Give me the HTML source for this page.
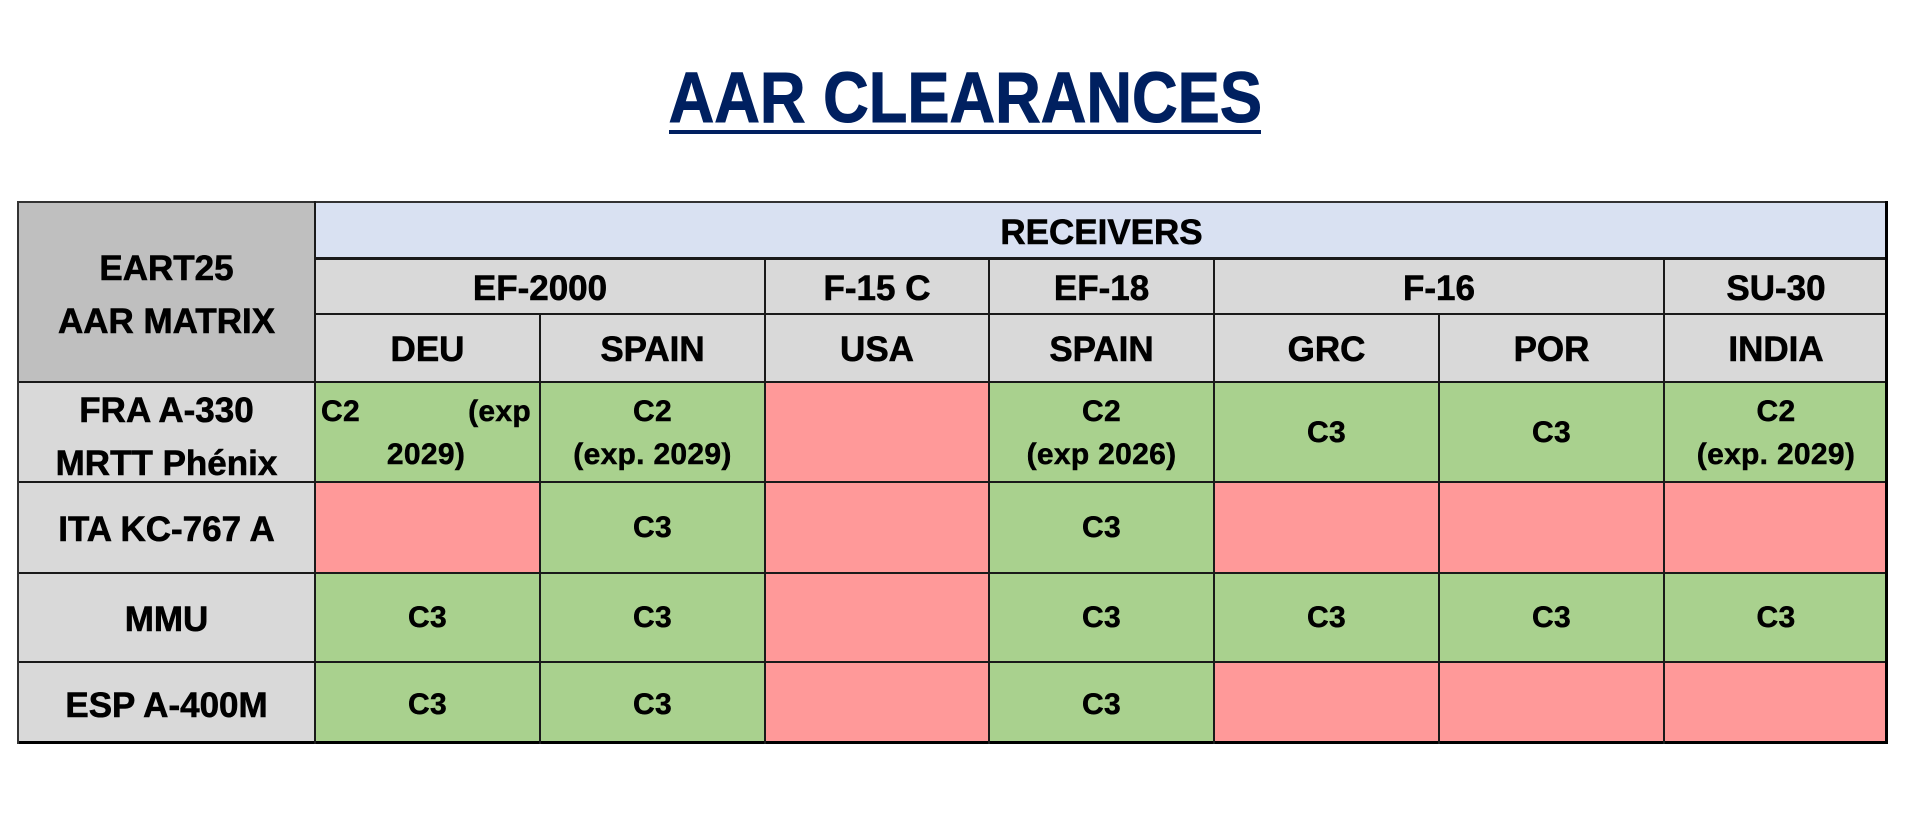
<!DOCTYPE html>
<html>
<head>
<meta charset="utf-8">
<style>
  html, body { margin:0; padding:0; background:#ffffff; }
  body { width:1920px; height:817px; position:relative; overflow:hidden;
         font-family:"Liberation Sans", Arial, sans-serif; font-weight:bold; color:#000; }
  .title { position:absolute; left:465px; top:64px; width:1000px; text-align:center;
           font-size:71px; line-height:70px; color:#002060; white-space:nowrap;
           -webkit-text-stroke:1px #002060; }
  .title span { display:inline-block; transform:scaleX(0.89); transform-origin:50% 50%; }
  .uline { position:absolute; left:669px; top:130px; width:592px; height:4px; background:#002060; }
  .c { position:absolute; display:flex; align-items:center; justify-content:center; text-align:center; box-sizing:border-box; }
  .h { font-size:35px; line-height:53px; -webkit-text-stroke:0.6px #000; }
  .d { font-size:30px; line-height:43px; letter-spacing:0.3px; -webkit-text-stroke:0.5px #000; }
  .g { background:#A9D18E; }
  .r { background:#FF9999; }
  .gr { background:#D9D9D9; }
  .dk { background:#BFBFBF; }
  .bl { background:#D9E1F2; }
  .hl { position:absolute; background:#1a1a1a; }
</style>
</head>
<body>
<div class="title"><span>AAR CLEARANCES</span></div>
<div class="uline"></div>

<!-- header cells -->
<div class="c h dk" style="left:18px;top:202px;width:297px;height:180px;padding-top:6px;">EART25<br>AAR MATRIX</div>
<div class="c h bl" style="left:315px;top:202px;width:1573px;height:57px;padding-top:3px;">RECEIVERS</div>

<div class="c h gr" style="left:315px;top:259px;width:450px;height:55px;padding-top:3px;">EF-2000</div>
<div class="c h gr" style="left:765px;top:259px;width:224px;height:55px;padding-top:3px;">F-15 C</div>
<div class="c h gr" style="left:989px;top:259px;width:225px;height:55px;padding-top:3px;">EF-18</div>
<div class="c h gr" style="left:1214px;top:259px;width:450px;height:55px;padding-top:3px;">F-16</div>
<div class="c h gr" style="left:1664px;top:259px;width:224px;height:55px;padding-top:3px;">SU-30</div>

<div class="c h gr" style="left:315px;top:314px;width:225px;height:68px;padding-top:3px;">DEU</div>
<div class="c h gr" style="left:540px;top:314px;width:225px;height:68px;padding-top:3px;">SPAIN</div>
<div class="c h gr" style="left:765px;top:314px;width:224px;height:68px;padding-top:3px;">USA</div>
<div class="c h gr" style="left:989px;top:314px;width:225px;height:68px;padding-top:3px;">SPAIN</div>
<div class="c h gr" style="left:1214px;top:314px;width:225px;height:68px;padding-top:3px;">GRC</div>
<div class="c h gr" style="left:1439px;top:314px;width:225px;height:68px;padding-top:3px;">POR</div>
<div class="c h gr" style="left:1664px;top:314px;width:224px;height:68px;padding-top:3px;">INDIA</div>

<!-- row headers -->
<div class="c h gr" style="left:18px;top:382px;width:297px;height:100px;padding-top:9px;">FRA A-330<br>MRTT Phénix</div>
<div class="c h gr" style="left:18px;top:482px;width:297px;height:91px;padding-top:3px;">ITA KC-767 A</div>
<div class="c h gr" style="left:18px;top:573px;width:297px;height:89px;padding-top:3px;">MMU</div>
<div class="c h gr" style="left:18px;top:662px;width:297px;height:81px;padding-top:5px;">ESP A-400M</div>

<!-- row 1 -->
<div class="c d g" style="left:315px;top:382px;width:225px;height:100px;padding-top:2px;">
  <div style="width:100%;padding:0 9px 0 6px;box-sizing:border-box;">
    <div style="display:flex;justify-content:space-between;"><span>C2</span><span>(exp</span></div>
    <div>2029)</div>
  </div>
</div>
<div class="c d g" style="left:540px;top:382px;width:225px;height:100px;padding-top:2px;">C2<br>(exp. 2029)</div>
<div class="c d r" style="left:765px;top:382px;width:224px;height:100px;"></div>
<div class="c d g" style="left:989px;top:382px;width:225px;height:100px;padding-top:2px;">C2<br>(exp 2026)</div>
<div class="c d g" style="left:1214px;top:382px;width:225px;height:100px;">C3</div>
<div class="c d g" style="left:1439px;top:382px;width:225px;height:100px;">C3</div>
<div class="c d g" style="left:1664px;top:382px;width:224px;height:100px;padding-top:2px;">C2<br>(exp. 2029)</div>

<!-- row 2 -->
<div class="c d r" style="left:315px;top:482px;width:225px;height:91px;"></div>
<div class="c d g" style="left:540px;top:482px;width:225px;height:91px;">C3</div>
<div class="c d r" style="left:765px;top:482px;width:224px;height:91px;"></div>
<div class="c d g" style="left:989px;top:482px;width:225px;height:91px;">C3</div>
<div class="c d r" style="left:1214px;top:482px;width:225px;height:91px;"></div>
<div class="c d r" style="left:1439px;top:482px;width:225px;height:91px;"></div>
<div class="c d r" style="left:1664px;top:482px;width:224px;height:91px;"></div>

<!-- row 3 -->
<div class="c d g" style="left:315px;top:573px;width:225px;height:89px;">C3</div>
<div class="c d g" style="left:540px;top:573px;width:225px;height:89px;">C3</div>
<div class="c d r" style="left:765px;top:573px;width:224px;height:89px;"></div>
<div class="c d g" style="left:989px;top:573px;width:225px;height:89px;">C3</div>
<div class="c d g" style="left:1214px;top:573px;width:225px;height:89px;">C3</div>
<div class="c d g" style="left:1439px;top:573px;width:225px;height:89px;">C3</div>
<div class="c d g" style="left:1664px;top:573px;width:224px;height:89px;">C3</div>

<!-- row 4 -->
<div class="c d g" style="left:315px;top:662px;width:225px;height:81px;padding-top:3px;">C3</div>
<div class="c d g" style="left:540px;top:662px;width:225px;height:81px;padding-top:3px;">C3</div>
<div class="c d r" style="left:765px;top:662px;width:224px;height:81px;"></div>
<div class="c d g" style="left:989px;top:662px;width:225px;height:81px;padding-top:3px;">C3</div>
<div class="c d r" style="left:1214px;top:662px;width:225px;height:81px;"></div>
<div class="c d r" style="left:1439px;top:662px;width:225px;height:81px;"></div>
<div class="c d r" style="left:1664px;top:662px;width:224px;height:81px;"></div>

<!-- horizontal lines -->
<div class="hl" style="left:18px;top:201px;width:1870px;height:2px;background:#333;"></div>
<div class="hl" style="left:315px;top:257px;width:1573px;height:3px;"></div>
<div class="hl" style="left:315px;top:313px;width:1573px;height:2px;"></div>
<div class="hl" style="left:18px;top:381px;width:1870px;height:2px;"></div>
<div class="hl" style="left:18px;top:481px;width:1870px;height:2px;"></div>
<div class="hl" style="left:18px;top:572px;width:1870px;height:2px;"></div>
<div class="hl" style="left:18px;top:661px;width:1870px;height:2px;"></div>
<div class="hl" style="left:18px;top:741px;width:1870px;height:3px;background:#000;"></div>

<!-- vertical lines -->
<div class="hl" style="left:17px;top:201px;width:2px;height:543px;background:#333;"></div>
<div class="hl" style="left:314px;top:201px;width:2px;height:543px;"></div>
<div class="hl" style="left:539px;top:313px;width:2px;height:431px;"></div>
<div class="hl" style="left:764px;top:258px;width:2px;height:486px;"></div>
<div class="hl" style="left:988px;top:258px;width:2px;height:486px;"></div>
<div class="hl" style="left:1213px;top:258px;width:2px;height:486px;"></div>
<div class="hl" style="left:1438px;top:313px;width:2px;height:431px;"></div>
<div class="hl" style="left:1663px;top:258px;width:2px;height:486px;"></div>
<div class="hl" style="left:1885px;top:201px;width:3px;height:543px;background:#000;"></div>
</body>
</html>
